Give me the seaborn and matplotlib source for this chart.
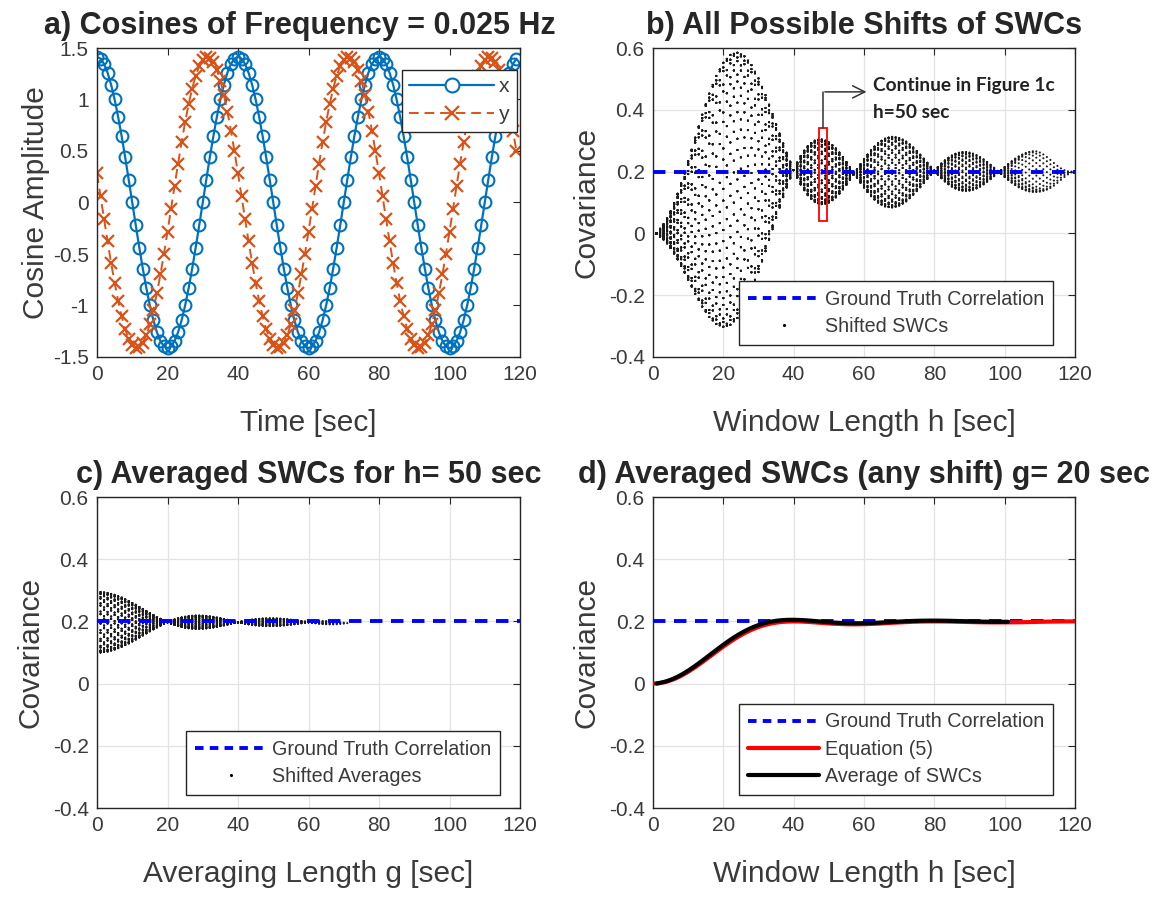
import numpy as np
import pandas as pd
import matplotlib
matplotlib.use("Agg")
import matplotlib.pyplot as plt
import matplotlib.patches as mpatches
from matplotlib.lines import Line2D
import seaborn as sns

# ---------------------------------------------------------------- data
# Time axis (seconds), one sample per second
time_sec = list(range(120))

# Cosine x (0.025 Hz)
x_signal = [
    1.414, 1.397, 1.345, 1.260, 1.144, 1.000, 0.831, 0.642, 0.437, 0.221,
    0.000, -0.221, -0.437, -0.642, -0.831, -1.000, -1.144, -1.260, -1.345, -1.397,
    -1.414, -1.397, -1.345, -1.260, -1.144, -1.000, -0.831, -0.642, -0.437, -0.221,
    0.000, 0.221, 0.437, 0.642, 0.831, 1.000, 1.144, 1.260, 1.345, 1.397,
    1.414, 1.397, 1.345, 1.260, 1.144, 1.000, 0.831, 0.642, 0.437, 0.221,
    0.000, -0.221, -0.437, -0.642, -0.831, -1.000, -1.144, -1.260, -1.345, -1.397,
    -1.414, -1.397, -1.345, -1.260, -1.144, -1.000, -0.831, -0.642, -0.437, -0.221,
    0.000, 0.221, 0.437, 0.642, 0.831, 1.000, 1.144, 1.260, 1.345, 1.397,
    1.414, 1.397, 1.345, 1.260, 1.144, 1.000, 0.831, 0.642, 0.437, 0.221,
    0.000, -0.221, -0.437, -0.642, -0.831, -1.000, -1.144, -1.260, -1.345, -1.397,
    -1.414, -1.397, -1.345, -1.260, -1.144, -1.000, -0.831, -0.642, -0.437, -0.221,
    0.000, 0.221, 0.437, 0.642, 0.831, 1.000, 1.144, 1.260, 1.345, 1.397,
]

# Cosine y (same frequency, phase-shifted)
y_signal = [
    0.283, 0.063, -0.159, -0.377, -0.586, -0.780, -0.955, -1.106, -1.230, -1.324,
    -1.386, -1.413, -1.405, -1.363, -1.287, -1.180, -1.043, -0.881, -0.697, -0.496,
    -0.283, -0.063, 0.159, 0.377, 0.586, 0.780, 0.955, 1.106, 1.230, 1.324,
    1.386, 1.413, 1.405, 1.363, 1.287, 1.180, 1.043, 0.881, 0.697, 0.496,
    0.283, 0.063, -0.159, -0.377, -0.586, -0.780, -0.955, -1.106, -1.230, -1.324,
    -1.386, -1.413, -1.405, -1.363, -1.287, -1.180, -1.043, -0.881, -0.697, -0.496,
    -0.283, -0.063, 0.159, 0.377, 0.586, 0.780, 0.955, 1.106, 1.230, 1.324,
    1.386, 1.413, 1.405, 1.363, 1.287, 1.180, 1.043, 0.881, 0.697, 0.496,
    0.283, 0.063, -0.159, -0.377, -0.586, -0.780, -0.955, -1.106, -1.230, -1.324,
    -1.386, -1.413, -1.405, -1.363, -1.287, -1.180, -1.043, -0.881, -0.697, -0.496,
    -0.283, -0.063, 0.159, 0.377, 0.586, 0.780, 0.955, 1.106, 1.230, 1.324,
    1.386, 1.413, 1.405, 1.363, 1.287, 1.180, 1.043, 0.881, 0.697, 0.496,
]

ground_truth = 0.2          # true correlation between x and y
h_focus = 50                # window length examined in panel c
g_focus = 20                # averaging length used in panel d

# Equation (5): expected averaged SWC versus window length h
eq5_h = list(range(0, 121, 2))
eq5_cov = [
    0.0000, 0.0016, 0.0065, 0.0143, 0.0250, 0.0379, 0.0526, 0.0687, 0.0854, 0.1024,
    0.1189, 0.1346, 0.1491, 0.1619, 0.1729, 0.1820, 0.1891, 0.1942, 0.1976, 0.1994,
    0.2000, 0.1996, 0.1984, 0.1968, 0.1951, 0.1935, 0.1922, 0.1912, 0.1906, 0.1906,
    0.1910, 0.1918, 0.1928, 0.1941, 0.1954, 0.1967, 0.1978, 0.1988, 0.1995, 0.1999,
    0.2000, 0.1999, 0.1996, 0.1991, 0.1986, 0.1980, 0.1975, 0.1971, 0.1968, 0.1967,
    0.1968, 0.1970, 0.1973, 0.1977, 0.1982, 0.1987, 0.1991, 0.1995, 0.1998, 0.1999,
    0.2000,
]

# ---------------------------------------------------------------- analysis
xs = np.asarray(x_signal)
ys = np.asarray(y_signal)
n = len(xs)


def window_cov(a, b):
    if len(a) < 2:
        return 0.0
    return float(np.cov(a, b)[0, 1])


def swc_series(h):
    """Sliding-window covariance for every possible shift of a window of h samples."""
    return np.array([window_cov(xs[s:s + h], ys[s:s + h]) for s in range(n - h + 1)])


swc_by_h = {h: swc_series(h) for h in range(1, n + 1)}

# panel b: every shift for every window length
rows_b = [(h, v) for h, vals in swc_by_h.items() for v in vals]
df_b = pd.DataFrame(rows_b, columns=["h", "cov"])

# panel c: moving averages of the h=50 SWC series over g shifts
swc_focus = swc_by_h[h_focus]
m = len(swc_focus)
rows_c = [(g, swc_focus[s:s + g].mean()) for g in range(1, m + 1) for s in range(m - g + 1)]
df_c = pd.DataFrame(rows_c, columns=["g", "cov"])

# panel d: average over g_focus consecutive shifts, per window length
h_avg = [h for h in range(1, n + 1) if len(swc_by_h[h]) >= g_focus]
df_d = pd.DataFrame({"h": h_avg, "cov": [swc_by_h[h][:g_focus].mean() for h in h_avg]})
df_eq = pd.DataFrame({"h": eq5_h, "cov": eq5_cov})

# ---------------------------------------------------------------- style
sns.set_theme(style="white")
plt.rcParams["font.family"] = ["Liberation Sans", "DejaVu Sans"]
plt.rcParams["axes.edgecolor"] = "#262626"
plt.rcParams["xtick.color"] = "#262626"
plt.rcParams["ytick.color"] = "#262626"

TXT = "#3a3a3a"
BLUE = "#0072BD"
ORANGE = "#D95319"
TICK_FS = 15
LABEL_FS = 21.5
TITLE_FS = 22
LEG_FS = 14.2

fig = plt.figure(figsize=(11.7, 8.97), dpi=100)
W, H = 1170.0, 897.0


def make_axes(l, r, t, b):
    return fig.add_axes([l / W, 1 - b / H, (r - l) / W, (b - t) / H])


ax_a = make_axes(97, 520, 48, 357)
ax_b = make_axes(653, 1075, 48, 357)
ax_c = make_axes(97, 520, 497, 808)
ax_d = make_axes(653, 1075, 497, 808)


def style_axes(ax, grid=True):
    for sp in ax.spines.values():
        sp.set_visible(True)
        sp.set_linewidth(1.0)
        sp.set_color("#262626")
    ax.tick_params(direction="in", length=5, width=0.8, top=True, right=True,
                   labelsize=TICK_FS, labelcolor=TXT, pad=6)
    ax.set_xlim(0, 120)
    ax.set_xticks(range(0, 121, 20))
    if grid:
        ax.grid(True, color="#e3e3e3", linewidth=0.9)
        ax.set_axisbelow(True)


def cov_axis(ax):
    ax.set_ylim(-0.4, 0.6)
    ax.set_yticks([-0.4, -0.2, 0, 0.2, 0.4, 0.6])
    ax.set_yticklabels(["-0.4", "-0.2", "0", "0.2", "0.4", "0.6"])
    ax.set_ylabel("Covariance", fontsize=LABEL_FS, color=TXT, labelpad=6)


def gt_line(ax):
    ax.axhline(ground_truth, color="blue", linewidth=2.8, dashes=(3.2, 2.2), zorder=3)


def gt_handle():
    return Line2D([], [], color="blue", linewidth=2.8, dashes=(2.2, 1.6))


def legend(ax, handles, labels, anchor):
    lg = ax.legend(handles, labels, loc="lower right", bbox_to_anchor=anchor,
                   borderaxespad=0, fontsize=LEG_FS, frameon=True, fancybox=False,
                   framealpha=1, edgecolor="#262626", handlelength=3.6,
                   handletextpad=0.3, borderpad=0.45, labelspacing=0.42)
    lg.get_frame().set_linewidth(1.0)
    for t in lg.get_texts():
        t.set_color(TXT)
    return lg


# ---------------------------------------------------------------- a)
df_a = pd.DataFrame({"t": time_sec, "x": x_signal, "y": y_signal})
sns.lineplot(data=df_a, x="t", y="x", ax=ax_a, color=BLUE, linewidth=1.6,
             marker="o", markersize=8.5, markerfacecolor="none",
             markeredgecolor=BLUE, markeredgewidth=1.5)
sns.lineplot(data=df_a, x="t", y="y", ax=ax_a, color=ORANGE, linewidth=1.4,
             linestyle=(0, (5, 3)), marker="x", markersize=8.5,
             markeredgecolor=ORANGE, markeredgewidth=1.6)
style_axes(ax_a, grid=False)
ax_a.set_ylim(-1.5, 1.5)
ax_a.set_yticks([-1.5, -1, -0.5, 0, 0.5, 1, 1.5])
ax_a.set_yticklabels(["-1.5", "-1", "-0.5", "0", "0.5", "1", "1.5"])
ax_a.set_xlabel("Time [sec]", fontsize=LABEL_FS, color=TXT, labelpad=18)
ax_a.set_ylabel("Cosine Amplitude", fontsize=LABEL_FS, color=TXT, labelpad=2)
ax_a.set_title("a) Cosines of Frequency = 0.025 Hz", fontsize=TITLE_FS,
               fontweight="bold", pad=10, x=0.48)
ha = [Line2D([], [], color=BLUE, lw=1.6, marker="o", ms=10, mfc="white", mec=BLUE, mew=1.5),
      Line2D([], [], color=ORANGE, lw=1.4, marker="x", ms=10, mew=1.6, mec=ORANGE,
             linestyle=(0, (5, 3)))]
lga = ax_a.legend(ha, ["x", "y"], loc="upper right", bbox_to_anchor=(0.993, 0.929),
                  borderaxespad=0, fontsize=LEG_FS + 1, frameon=True, fancybox=False,
                  framealpha=1, edgecolor="#262626", handlelength=4.0,
                  handletextpad=0.25, borderpad=0.35, labelspacing=0.42)
lga.get_frame().set_linewidth(1.0)
for t in lga.get_texts():
    t.set_color(TXT)

# ---------------------------------------------------------------- b)
style_axes(ax_b)
sns.scatterplot(data=df_b, x="h", y="cov", ax=ax_b, color="#1a1a1a", s=2.2,
                linewidth=0, edgecolor="none", legend=False, zorder=2)
gt_line(ax_b)
cov_axis(ax_b)
ax_b.set_xlabel("Window Length h [sec]", fontsize=LABEL_FS, color=TXT, labelpad=18)
ax_b.set_title("b) All Possible Shifts of SWCs", fontsize=TITLE_FS,
               fontweight="bold", pad=10)
ax_b.add_patch(mpatches.Rectangle((47.2, 0.04), 2.2, 0.30, fill=False,
                                  edgecolor="red", linewidth=1.3, zorder=4))
ax_b.plot([48.3, 48.3], [0.34, 0.458], color="#333333", linewidth=1.1, zorder=4)
ax_b.annotate("", xy=(61.5, 0.458), xytext=(48.1, 0.458),
              arrowprops=dict(arrowstyle="->", color="#333333", lw=1.1,
                              mutation_scale=22), zorder=4)
ax_b.text(62.6, 0.48, "Continue in Figure 1c", fontsize=13.8, fontweight="bold",
          family=["Lato", "DejaVu Sans"], color="#222222", va="center", ha="left")
ax_b.text(62.6, 0.39, "h=50 sec", fontsize=13.8, fontweight="bold",
          family=["Lato", "DejaVu Sans"], color="#222222", va="center", ha="left")
legend(ax_b,
       [gt_handle(), Line2D([], [], color="black", lw=0, marker=".", ms=2.5)],
       ["Ground Truth Correlation", "Shifted SWCs"], (0.948, 0.039))

# ---------------------------------------------------------------- c)
style_axes(ax_c)
sns.scatterplot(data=df_c, x="g", y="cov", ax=ax_c, color="#1a1a1a", s=2.2,
                linewidth=0, edgecolor="none", legend=False, zorder=2)
gt_line(ax_c)
cov_axis(ax_c)
ax_c.set_xlabel("Averaging Length g [sec]", fontsize=LABEL_FS, color=TXT, labelpad=18)
ax_c.set_title(f"c) Averaged SWCs for h= {h_focus} sec", fontsize=TITLE_FS,
               fontweight="bold", pad=10)
legend(ax_c,
       [gt_handle(), Line2D([], [], color="black", lw=0, marker=".", ms=2.5)],
       ["Ground Truth Correlation", "Shifted Averages"], (0.953, 0.042))

# ---------------------------------------------------------------- d)
style_axes(ax_d)
gt_line(ax_d)
sns.lineplot(data=df_eq, x="h", y="cov", ax=ax_d, color="red", linewidth=3.0, zorder=4)
sns.lineplot(data=df_d, x="h", y="cov", ax=ax_d, color="black", linewidth=3.0, zorder=5)
cov_axis(ax_d)
ax_d.set_xlabel("Window Length h [sec]", fontsize=LABEL_FS, color=TXT, labelpad=18)
ax_d.set_title(f"d) Averaged SWCs (any shift) g= {g_focus} sec", fontsize=TITLE_FS,
               fontweight="bold", pad=10)
legend(ax_d,
       [gt_handle(), Line2D([], [], color="red", lw=3.0), Line2D([], [], color="black", lw=3.0)],
       ["Ground Truth Correlation", "Equation (5)", "Average of SWCs"], (0.948, 0.042))

fig.savefig("out.png", dpi=100)
